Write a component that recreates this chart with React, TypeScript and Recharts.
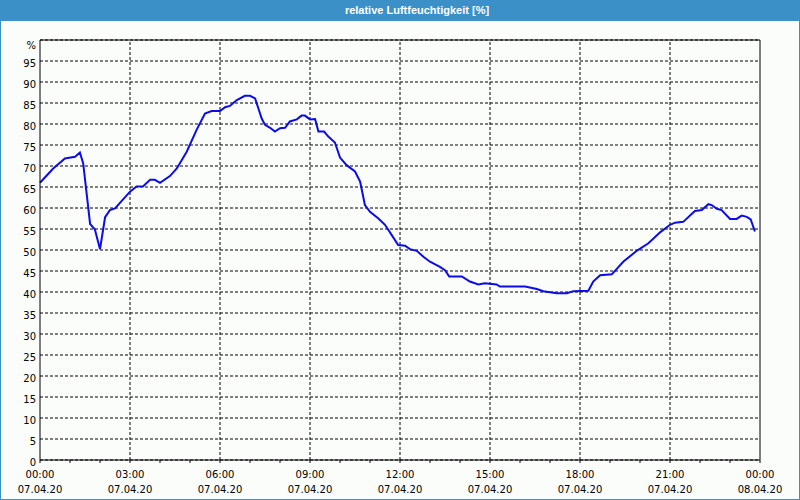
import { LineChart, Line, XAxis, YAxis, CartesianGrid, ReferenceLine } from 'recharts';

// relative humidity over the day, hours since 07.04.20 00:00
const hours = [
  0, 0.44, 0.83, 1.17, 1.33, 1.44, 1.67, 1.83, 2.0, 2.17, 2.33, 2.5, 3.0, 3.22, 3.44, 3.67, 3.83, 4.0,
  4.33, 4.56, 4.89, 5.22, 5.5, 5.72, 6.0, 6.17, 6.33, 6.56, 6.83, 7.0, 7.17, 7.28, 7.39, 7.5, 7.67,
  7.83, 8.0, 8.17, 8.33, 8.56, 8.72, 8.83, 9.0, 9.17, 9.28, 9.47, 9.61, 9.83, 10.0, 10.22, 10.5,
  10.67, 10.83, 11.0, 11.28, 11.5, 11.72, 11.94, 12.17, 12.33, 12.56, 12.78, 13.0, 13.33, 13.5,
  13.64, 14.06, 14.33, 14.61, 14.83, 15.22, 15.33, 16.17, 16.56, 16.78, 17.22, 17.56, 17.78, 18.28,
  18.44, 18.67, 19.06, 19.44, 19.89, 20.28, 20.67, 21.0, 21.17, 21.44, 21.83, 22.06, 22.28, 22.39,
  22.56, 22.72, 23.0, 23.22, 23.39, 23.56, 23.69, 23.83,
];
const humidity = [
  66.0, 69.4, 71.8, 72.2, 73.2, 70.6, 56.2, 54.9, 50.2, 57.8, 59.5, 59.9, 63.9, 65.1, 65.2, 66.7, 66.7, 66.0,
  67.6, 69.4, 73.4, 78.6, 82.5, 83.1, 83.1, 84.0, 84.3, 85.7, 86.7, 86.7, 86.1, 83.7, 81.3, 79.8, 79.1,
  78.2, 79.0, 79.1, 80.6, 81.1, 82.0, 82.0, 81.1, 81.2, 78.2, 78.2, 77.0, 75.6, 72.0, 70.2, 68.7,
  66.3, 60.7, 59.1, 57.5, 56.0, 53.6, 51.2, 51.0, 50.2, 49.8, 48.4, 47.2, 46.0, 45.2,
  43.7, 43.7, 42.5, 41.8, 42.1, 41.8, 41.3, 41.3, 40.7, 40.2, 39.7, 39.7, 40.2, 40.3,
  42.5, 44.0, 44.2, 47.2, 49.8, 51.6, 54.2, 56.0, 56.5, 56.7, 59.3, 59.5, 60.9, 60.7,
  59.8, 59.5, 57.4, 57.4, 58.2, 57.9, 57.3, 54.4,
];

const hourTicks = [0, 1, 2, 3, 4, 5, 6, 7, 8, 9, 10, 11, 12, 13, 14, 15, 16, 17, 18, 19, 20, 21, 22, 23, 24];
const majorHours = [0, 3, 6, 9, 12, 15, 18, 21, 24];
const timeLabels = ['00:00', '03:00', '06:00', '09:00', '12:00', '15:00', '18:00', '21:00', '00:00'];
const dateLabels = ['07.04.20', '07.04.20', '07.04.20', '07.04.20', '07.04.20', '07.04.20', '07.04.20', '07.04.20', '08.04.20'];
const yTicks = [0, 5, 10, 15, 20, 25, 30, 35, 40, 45, 50, 55, 60, 65, 70, 75, 80, 85, 90, 95, 100];

const data = hours.map((h, i) => ({ h, rh: humidity[i] }));

const FONT = '"DejaVu Sans", Tahoma, sans-serif';

function HourTick({ x, y, payload }: any) {
  const i = majorHours.indexOf(payload.value);
  if (i < 0) return <g />;
  return (
    <g fontFamily={FONT} fontSize={10} fill="#000">
      <text x={x} y={y + 13} textAnchor="middle">{timeLabels[i]}</text>
      <text x={x} y={y + 28} textAnchor="middle">{dateLabels[i]}</text>
    </g>
  );
}

function PercentTick({ x, y, payload }: any) {
  const v = payload.value;
  return (
    <text x={x} y={y + (v === 100 ? 9 : 5.6)} textAnchor="end" fontFamily={FONT} fontSize={10} fill="#000">
      {v === 100 ? '%' : String(v)}
    </text>
  );
}

export default function App() {
  return (
    <div style={{ position: 'absolute', left: 0, top: 0, width: 800, height: 500, background: '#fbfdfb' }}>
      <div
        style={{
          position: 'absolute', left: 0, top: 0, width: 800, height: 21, background: '#3c90c8',
          color: '#fff', fontFamily: '"Liberation Sans", Arial, sans-serif', fontWeight: 'bold', fontSize: 11,
          lineHeight: '21px', textAlign: 'center', boxSizing: 'border-box', paddingLeft: 34,
        }}
      >
        relative Luftfeuchtigkeit [%]
      </div>
      <div style={{ position: 'absolute', left: 0, top: 0 }}>
        <LineChart width={800} height={500} data={data} margin={{ top: 40, right: 40, bottom: 0, left: 10 }}>
          <CartesianGrid vertical={false} stroke="#000" strokeDasharray="3 2" />
          {majorHours.slice(1, -1).map((h) => (
            <ReferenceLine key={h} x={h} stroke="#000" strokeDasharray="3 2" />
          ))}
          <XAxis
            dataKey="h"
            type="number"
            domain={[0, 24]}
            ticks={hourTicks}
            interval={0}
            height={40}
            stroke="#000"
            tickSize={3}
            tickMargin={2}
            tick={<HourTick />}
          />
          <YAxis
            type="number"
            domain={[0, 100]}
            ticks={yTicks}
            interval={0}
            width={30}
            stroke="#000"
            tickLine={false}
            tickSize={0}
            tickMargin={4}
            tick={<PercentTick />}
          />
          <ReferenceLine y={100} stroke="#000" />
          <ReferenceLine x={24} stroke="#000" />
          <Line type="linear" dataKey="rh" stroke="#0c0ce8" strokeWidth={2} dot={false} isAnimationActive={false} />
        </LineChart>
      </div>
      <div
        style={{
          position: 'absolute', left: 0, top: 0, width: 800, height: 500, boxSizing: 'border-box',
          border: '1px solid #3c90c8', pointerEvents: 'none',
        }}
      />
    </div>
  );
}
